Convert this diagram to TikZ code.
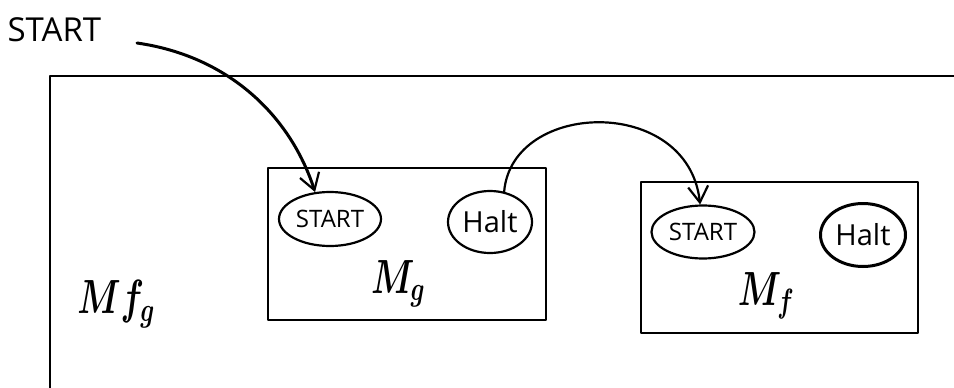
\RequirePackage{fix-cm}
\documentclass[tikz,border=0pt]{standalone}
\usepackage{fontspec}
\setmainfont{Open Sans}
\usetikzlibrary{arrows.meta,shapes.geometric}
\tikzset{
  pen/.style={line width=2.2pt, line cap=round, line join=round},
  machine/.style={pen, draw=black},
  state/.style={pen, draw=black, ellipse, inner sep=0pt},
  statelabel/.style={font=\fontsize{24}{24}\selectfont},
  haltlabel/.style={font=\fontsize{29}{29}\selectfont},
  mlabel/.style={font=\fontsize{48}{48}\selectfont\boldmath},
  flow/.style={pen, -{Straight Barb[length=16pt,width=20pt,line width=2.2pt]}},
}
\newcommand{\narrowmath}[1]{\scalebox{0.72}[1]{$#1$}}
\begin{document}
\begin{tikzpicture}[x=1pt,y=-1pt]
  \useasboundingbox (0,0) rectangle (954,388);
  \fill[white] (0,0) rectangle (954,388);

  % outer machine M f_g, running off the right and bottom edges
  \draw[machine] (954,76) -- (50,76) -- (50,392);
  \node[mlabel] (mfg) at (116,304) {\narrowmath{Mf_g}};

  % inner machine M_g
  \node[machine, draw, minimum width=278pt, minimum height=152pt, inner sep=0pt]
    (mg) at (407,244) {};
  \node[state, minimum width=102pt, minimum height=54pt] (gstart) at (330,219) {};
  \node[statelabel] at (gstart) {START};
  \node[state, minimum width=84pt, minimum height=62pt] (ghalt) at (490,222) {};
  \node[haltlabel] at (ghalt) {Halt};
  \node[mlabel] (mglabel) at (398,284) {\narrowmath{M_g}};

  % inner machine M_f
  \node[machine, draw, minimum width=277pt, minimum height=151pt, inner sep=0pt]
    (mf) at (779.5,257.5) {};
  \node[state, minimum width=103pt, minimum height=53pt] (fstart) at (703,232) {};
  \node[statelabel] at (fstart) {START};
  \node[state, line width=3pt, minimum width=85pt, minimum height=63pt] (fhalt) at (863,235) {};
  \node[haltlabel] at (fhalt) {Halt};
  \node[mlabel] (mflabel) at (766,296) {\narrowmath{M_f}};

  % entry point
  \node[font=\fontsize{33}{33}\selectfont, anchor=west] (entry) at (4,30) {START};
  \coordinate (entrytail) at (137,43);

  % connectors
  \draw[flow, line width=3pt] (entrytail) .. controls (228,56) and (290,115) .. (gstart.119);
  \draw[flow] (ghalt.65) .. controls (512,100) and (688,95) .. (fstart.96);
\end{tikzpicture}
\end{document}
